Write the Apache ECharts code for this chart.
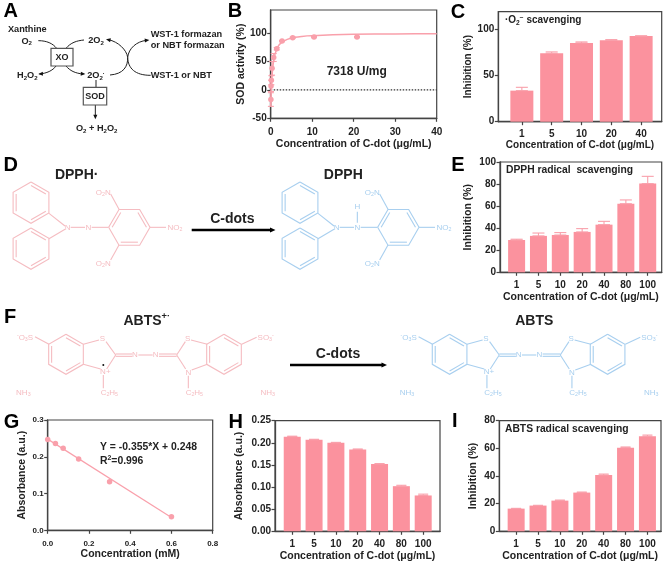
<!DOCTYPE html>
<html>
<head>
<meta charset="utf-8">
<title>C-dot scavenging</title>
<style>
  html, body { margin: 0; padding: 0; background: #fff; }
  #chart { width: 669px; height: 564px; }
</style>
<script src="https://cdn.jsdelivr.net/npm/echarts@6/dist/echarts.min.js"></script>
</head>
<body>
<div id="chart"></div>
<script>
// panel B
const sodDoseX = [0.04, 0.08, 0.16, 0.33, 0.72, 1.45, 2.73, 5.3, 10.44, 20.8];
const sodDoseY = [-17, 7, 17, 38, 57, 72.4, 85.9, 91.8, 93, 93];
const sodDoseErr = [12, 10, 8, 12, 7, 2, 1, 1, 1, 1];
const sodCurveX = [0, 0.1, 0.2, 0.3, 0.5, 0.75, 1, 1.5, 2, 3, 5, 7.5, 10, 15, 20, 30, 40];
const sodCurveY = [-29, -10, 8, 22, 39, 53, 62, 72, 79, 85.5, 91.5, 94, 95.5, 97, 97.8, 98.5, 99];
// panel C
const superoxideDoses = ['1', '5', '10', '20', '40'];
const superoxideValues = [33.6, 74, 85.2, 88, 92.8];
const superoxideTops = [37.2, 75.5, 86.3, 88.8, 92.8];
// panels E, H, I share doses
const doses = ['1', '5', '10', '20', '40', '80', '100'];
const dpphValues = [29.3, 33, 33.8, 36.6, 43.2, 62.2, 80.4];
const dpphTops = [30, 35.6, 36, 39.6, 46.2, 65.6, 87];
const abtsAbsValues = [0.214, 0.207, 0.2, 0.185, 0.152, 0.102, 0.081];
const abtsAbsTops = [0.215, 0.208, 0.201, 0.186, 0.153, 0.104, 0.084];
const abtsValues = [16.4, 18.6, 22.2, 28, 40.7, 60.5, 68.7];
const abtsTops = [16.6, 18.8, 22.6, 28.4, 41.4, 61, 69.6];
// panel G
const stdConc = [0, 0.0375, 0.075, 0.15, 0.3, 0.6];
const stdAbs = [0.247, 0.236, 0.223, 0.194, 0.132, 0.037];
const fitX = [0, 0.6];
const fitY = [0.248, 0.035];

const FONT = '"Liberation Sans", Arial, sans-serif';
const DARK = '#222';
const FRAME = '#444';
const BAR = '#fb929e';
const DOT = '#f9a0ab';
const PINK = '#f5bcc1';
const BLUE = '#a8cfef';
const DOSE_LABEL = 'Concentration of C-dot (μg/mL)';

const zip = (a, b) => a.map((v, i) => [v, b[i]]);

// ---- axes / grids ----
const grids = [];
const xAxes = [];
const yAxes = [];
const series = [];

function addPanel(p) {
  const idx = grids.length;
  grids.push({
    left: p.left, top: p.top, width: p.right - p.left, height: p.bottom - p.top,
    show: true, borderColor: FRAME, borderWidth: 1.2, backgroundColor: 'transparent'
  });
  const axisBase = {
    gridIndex: idx,
    type: 'value',
    splitLine: { show: false },
    axisLine: { show: true, onZero: false, lineStyle: { color: FRAME, width: 1.3 } },
    nameTextStyle: { fontFamily: FONT, fontWeight: 'bold', color: DARK, fontSize: p.nameSize || 10.5 }
  };
  xAxes.push(Object.assign({}, axisBase, {
    min: p.xMin, max: p.xMax,
    name: p.xName, nameLocation: 'middle', nameGap: p.xNameGap,
    axisTick: { length: 3.5, lineStyle: { color: FRAME, width: 1.2 }, customValues: p.xTicks },
    axisLabel: {
      customValues: p.xTicks, formatter: p.xFormat, margin: p.xMargin || 8, color: DARK,
      fontFamily: FONT, fontWeight: 'bold', fontSize: p.xSize || 10
    }
  }));
  yAxes.push(Object.assign({}, axisBase, {
    min: p.yMin, max: p.yMax,
    name: p.yName, nameLocation: 'middle', nameGap: p.yNameGap,
    axisTick: { length: 3.5, lineStyle: { color: FRAME, width: 1.2 }, customValues: p.yTicks },
    axisLabel: {
      customValues: p.yTicks, formatter: p.yFormat, margin: 4, color: DARK,
      fontFamily: FONT, fontWeight: 'bold', fontSize: p.ySize || 10
    }
  }));
  return idx;
}

function errorSeries(idx, points) {
  // points: [x, low, high], drawn through the panel's scales
  return {
    type: 'custom', xAxisIndex: idx, yAxisIndex: idx, silent: true, z: 3,
    data: points,
    renderItem: function (params, api) {
      const lo = api.coord([api.value(0), api.value(1)]);
      const hi = api.coord([api.value(0), api.value(2)]);
      const cap = api.value(3);
      const st = { stroke: DOT, lineWidth: 1.1 };
      const seg = (x1, y1, x2, y2) => ({ type: 'line', shape: { x1, y1, x2, y2 }, style: st });
      return {
        type: 'group',
        children: [
          seg(lo[0], lo[1], hi[0], hi[1]),
          seg(hi[0] - cap, hi[1], hi[0] + cap, hi[1]),
          seg(lo[0] - cap, lo[1], lo[0] + cap, lo[1])
        ]
      };
    }
  };
}

function addBars(p, cats, values, tops, barW, capW) {
  const pos = cats.map((c, i) => i);
  const idx = addPanel(Object.assign({
    xTicks: pos, xFormat: v => cats[v]
  }, p));
  series.push({
    type: 'bar', xAxisIndex: idx, yAxisIndex: idx, silent: true, barWidth: barW,
    itemStyle: { color: BAR }, data: zip(pos, values), z: 2
  });
  series.push(errorSeries(idx, values.map((v, i) => [i, v, tops[i], capW])));
}

// B
const bIdx = addPanel({
  left: 270.7, right: 436.7, top: 10, bottom: 118.3,
  xMin: 0, xMax: 40, xTicks: [0, 10, 20, 30, 40], xFormat: v => v, xMargin: 9,
  yMin: -50, yMax: 140.6, yTicks: [-50, 0, 50, 100], yFormat: v => v,
  xName: DOSE_LABEL, xNameGap: 18.4, yName: 'SOD activity (%)', yNameGap: 24
});
series.push({
  type: 'line', xAxisIndex: bIdx, yAxisIndex: bIdx, silent: true, showSymbol: false, z: 1,
  data: [[0, 0], [40, 0]], lineStyle: { color: '#333', width: 1.3, type: [1.5, 1.5] }
});
series.push({
  type: 'line', xAxisIndex: bIdx, yAxisIndex: bIdx, silent: true, showSymbol: false, smooth: 0.2, z: 2,
  data: zip(sodCurveX, sodCurveY), lineStyle: { color: DOT, width: 1.5 }
});
series.push({
  type: 'scatter', xAxisIndex: bIdx, yAxisIndex: bIdx, silent: true, symbolSize: 5.5, z: 3,
  data: zip(sodDoseX, sodDoseY), itemStyle: { color: DOT, opacity: 1 }
});
series.push(errorSeries(bIdx, sodDoseX.map((x, i) => [x, sodDoseY[i] - sodDoseErr[i], sodDoseY[i] + sodDoseErr[i], 3])));

// C
addBars({
  left: 498.3, right: 661.7, top: 11.7, bottom: 121.7,
  xMin: -0.79, xMax: 4.69,
  yMin: 0, yMax: 119, yTicks: [0, 50, 100], yFormat: v => v,
  xName: DOSE_LABEL, xNameGap: 15, yName: 'Inhibition (%)', yNameGap: 24, nameSize: 10
}, superoxideDoses, superoxideValues, superoxideTops, 23, 6);

// E
addBars({
  left: 500, right: 661.7, top: 162, bottom: 272.3,
  xMin: -0.76, xMax: 6.64,
  yMin: 0, yMax: 100, yTicks: [0, 20, 40, 60, 80, 100], yFormat: v => v,
  xName: DOSE_LABEL, xNameGap: 15.7, yName: 'Inhibition (%)', yNameGap: 26
}, doses, dpphValues, dpphTops, 17, 6);

// G
const gIdx = addPanel({
  left: 47.7, right: 212.7, top: 420, bottom: 530.3,
  xMin: 0, xMax: 0.8, xTicks: [0, 0.2, 0.4, 0.6, 0.8], xFormat: v => v.toFixed(1), xSize: 8, xMargin: 9.5,
  yMin: 0, yMax: 0.3, yTicks: [0, 0.1, 0.2, 0.3], yFormat: v => v.toFixed(1), ySize: 8,
  xName: 'Concentration (mM)', xNameGap: 18.4, yName: 'Absorbance (a.u.)', yNameGap: 20
});
series.push({
  type: 'line', xAxisIndex: gIdx, yAxisIndex: gIdx, silent: true, showSymbol: false, z: 2,
  data: zip(fitX, fitY), lineStyle: { color: DOT, width: 1.2 }
});
series.push({
  type: 'scatter', xAxisIndex: gIdx, yAxisIndex: gIdx, silent: true, symbolSize: 5.5, z: 3,
  data: zip(stdConc, stdAbs), itemStyle: { color: DOT, opacity: 1 }
});

// H
addBars({
  left: 275, right: 440, top: 420.7, bottom: 531.3,
  xMin: -0.79, xMax: 6.77,
  yMin: 0, yMax: 0.25, yTicks: [0, 0.05, 0.1, 0.15, 0.2, 0.25], yFormat: v => v.toFixed(2),
  xName: DOSE_LABEL, xNameGap: 15.4, yName: 'Absorbance (a.u.)', yNameGap: 30
}, doses, abtsAbsValues, abtsAbsTops, 17, 5);

// I
addBars({
  left: 499.3, right: 661, top: 420.7, bottom: 531.3,
  xMin: -0.77, xMax: 6.62,
  yMin: 0, yMax: 80, yTicks: [0, 20, 40, 60, 80], yFormat: v => v,
  xName: DOSE_LABEL, xNameGap: 15.4, yName: 'Inhibition (%)', yNameGap: 21
}, doses, abtsValues, abtsTops, 17, 5);

// ---- drawn schematics, text ----
const gfx = [];

function txt(x, y, text, size, opts) {
  opts = opts || {};
  const color = opts.color || DARK;
  const weight = opts.weight || 'bold';
  const rich = {
    n: { fontFamily: FONT, fontWeight: weight, fontSize: size, fill: color, verticalAlign: 'middle' },
    s: { fontFamily: FONT, fontWeight: weight, fontSize: size * 0.66, fill: color, verticalAlign: 'bottom', padding: [size * 0.55, 0, 0, 0] },
    u: { fontFamily: FONT, fontWeight: weight, fontSize: size * 0.66, fill: color, verticalAlign: 'top', padding: [0, 0, size * 0.55, 0] }
  };
  gfx.push({
    type: 'text', silent: true, z: 20,
    style: {
      x: x, y: y, text: text, align: opts.align || 'center', verticalAlign: 'middle',
      fontFamily: FONT, fontWeight: weight, fontSize: size, fill: color, rich: rich
    }
  });
}

const line = (pts, color, w) => gfx.push({
  type: 'polyline', silent: true, z: 15, shape: { points: pts }, style: { stroke: color, lineWidth: w, fill: null }
});

// zoom-crop coordinates are 3x, offset to the crop's origin
const at = (ox, oy) => (x, y) => [ox + x / 3, oy + y / 3];

function head(tip, from, size, color) {
  const a = Math.atan2(tip[1] - from[1], tip[0] - from[0]);
  const s = size || 5;
  const p = (ang, r) => [tip[0] - r * Math.cos(ang), tip[1] - r * Math.sin(ang)];
  gfx.push({
    type: 'polygon', silent: true, z: 16,
    shape: { points: [tip, p(a + 0.42, s), p(a - 0.42, s)] },
    style: { fill: color || '#111' }
  });
}

function curve(p0, c1, c2, p1) {
  gfx.push({
    type: 'bezierCurve', silent: true, z: 15,
    shape: { x1: p0[0], y1: p0[1], cpx1: c1[0], cpy1: c1[1], cpx2: c2[0], cpy2: c2[1], x2: p1[0], y2: p1[1] },
    style: { stroke: '#222', lineWidth: 1, fill: null }
  });
}

function box(x0, y0, x1, y1, label) {
  gfx.push({
    type: 'rect', silent: true, z: 15,
    shape: { x: x0, y: y0, width: x1 - x0, height: y1 - y0 },
    style: { stroke: '#555', lineWidth: 1.2, fill: '#fff' }
  });
  txt((x0 + x1) / 2, (y0 + y1) / 2, label, 9);
}

// panel letters
[['A', 10.7, 11.5], ['B', 235, 11.5], ['C', 458, 12], ['D', 10.7, 165], ['E', 458, 165],
 ['F', 10, 317.7], ['G', 11.5, 422], ['H', 235.7, 422], ['I', 454.7, 421]].forEach(l => {
  txt(l[1], l[2], l[0], 20, { color: '#000' });
});

// A: xanthine oxidase scheme
(function () {
  const z = at(0, 0);
  const S = 9.2;
  txt(27.3, 29.7, 'Xanthine', S);
  txt(26.7, 41, '{n|O}{s|2}', S);
  txt(96, 40.7, '{n|2O}{s|2}', S);
  txt(150.7, 34, 'WST-1 formazan', S, { align: 'left' });
  txt(150.7, 45, 'or NBT formazan', S, { align: 'left' });
  txt(27.3, 75.7, '{n|H}{s|2}{n|O}{s|2}', S);
  txt(96, 75.7, '{n|2O}{s|2}{u|·}', S);
  txt(150.7, 75, 'WST-1 or NBT', S, { align: 'left' });
  txt(96.7, 128.3, '{n|O}{s|2}{n| + H}{s|2}{n|O}{s|2}', S);
  curve(z(115, 122), z(140, 122), z(158, 130), z(170, 145));
  curve(z(198, 145), z(212, 128), z(230, 122), z(252, 120));
  curve(z(168, 198), z(158, 212), z(140, 220), z(118, 222));
  head(z(115, 222), z(135, 221));
  curve(z(198, 198), z(210, 212), z(225, 220), z(250, 222));
  head(z(256, 222), z(236, 221));
  line([z(288, 240), z(288, 262)], '#222', 1);
  line([z(286, 315), z(286, 350)], '#222', 1);
  head(z(286, 358), z(286, 340));
  curve(z(330, 225), z(370, 222), z(384, 200), z(383, 172));
  curve(z(383, 172), z(380, 150), z(355, 125), z(325, 119));
  head(z(318, 118), z(338, 122));
  curve(z(452, 226), z(405, 226), z(384, 205), z(383, 172));
  curve(z(383, 172), z(386, 145), z(410, 124), z(440, 121));
  head(z(448, 120), z(428, 122));
  box(51, 48.3, 73, 66, 'XO');
  box(83.3, 87.3, 106.7, 105, 'SOD');
})();

// rings in crop units: pointy or flat hexagon, every second edge doubled
function ring(cx, cy, r, flat, dx, oy, color) {
  const pts = [];
  for (let i = 0; i < 6; i++) {
    const a = (flat ? Math.PI : -Math.PI / 2) + i * Math.PI / 3;
    pts.push([cx + r * Math.cos(a), cy + r * Math.sin(a)]);
  }
  const z = at(dx, oy);
  line(pts.concat([pts[0]]).map(p => z(p[0], p[1])), color, 1.1);
  [0, 2, 4].forEach(k => {
    const a = pts[k], b = pts[(k + 1) % 6];
    const inner = p => [cx + (p[0] - cx) * 0.83, cy + (p[1] - cy) * 0.83];
    const ia = inner(a), ib = inner(b);
    line([z(ia[0], ia[1]), z(ib[0], ib[1])], color, 1.1);
  });
}

function bonds(list, dx, oy, color) {
  const z = at(dx, oy);
  list.forEach(b => line([z(b[0], b[1]), z(b[2], b[3])], color, 1.1));
}

// D: DPPH radical (pink) and reduced DPPH (blue)
function dpph(dx, color, withH) {
  const oy = 150;
  ring(93, 158, 62, false, dx, oy, color);
  ring(93, 296, 62, false, dx, oy, color);
  ring(388, 232, 62, true, dx, oy, color);
  bonds([
    [147, 190, 195, 228], [147, 266, 195, 238], [212, 232, 255, 232], [275, 232, 326, 232],
    [450, 232, 498, 232], [357, 178, 332, 132], [357, 285, 332, 330]
  ], dx, oy, color);
  const z = at(dx, oy);
  const chem = (x, y, t) => { const p = z(x, y); txt(p[0], p[1], t, 8, { color: color, weight: 'normal' }); };
  chem(203, 233, 'N');
  chem(265, 233, 'N');
  chem(525, 233, '{n|NO}{s|2}');
  chem(310, 127, '{n|O}{s|2}{n|N}');
  chem(310, 340, '{n|O}{s|2}{n|N}');
  if (withH) {
    chem(265, 170, 'H');
    bonds([[265, 185, 265, 218]], dx, oy, color);
  }
}
dpph(0, PINK, false);
dpph(269, BLUE, true);
txt(76.7, 175, 'DPPH·', 14);
txt(343.3, 175, 'DPPH', 14);
txt(232.3, 219.3, 'C-dots', 14);
line([[191.7, 230], [271, 230]], '#000', 2.5);
head([275.5, 230], [268, 230], 6, '#000');

// F: ABTS radical cation (pink) and ABTS (blue)
function abts(dx, color, plusDot) {
  const oy = 295;
  ring(198, 178, 60, false, dx, oy, color);
  ring(672, 178, 60, false, dx, oy, color);
  bonds([
    [250, 148, 297, 135], [318, 140, 347, 180], [347, 180, 320, 222], [302, 222, 250, 208],
    [347, 177, 397, 177], [347, 184, 397, 184], [415, 180, 458, 180],
    [477, 177, 530, 177], [477, 184, 530, 184],
    [530, 180, 556, 140], [530, 180, 557, 222], [573, 135, 622, 148], [575, 225, 622, 208],
    [147, 148, 105, 125], [725, 148, 770, 127], [310, 240, 310, 280], [565, 242, 565, 280]
  ], dx, oy, color);
  const z = at(dx, oy);
  const chem = (x, y, t) => { const p = z(x, y); txt(p[0], p[1], t, 8, { color: color, weight: 'normal' }); };
  chem(307, 130, 'S');
  chem(563, 130, 'S');
  chem(316, 231, 'N+');
  chem(565, 232, 'N');
  chem(405, 180, 'N');
  chem(467, 180, 'N');
  chem(75, 127, '{u|-}{n|O}{s|3}{n|S}');
  chem(797, 127, '{n|SO}{s|3}{u|-}');
  chem(328, 292, '{n|C}{s|2}{n|H}{s|5}');
  chem(583, 292, '{n|C}{s|2}{n|H}{s|5}');
  chem(70, 292, '{n|NH}{s|3}');
  chem(803, 292, '{n|NH}{s|3}');
  if (plusDot) {
    const p = z(310, 210);
    gfx.push({ type: 'circle', silent: true, z: 16, shape: { cx: p[0], cy: p[1], r: 1 }, style: { fill: '#111' } });
  }
}
abts(0, PINK, true);
abts(383.6, BLUE, false);
txt(146.7, 320.7, '{n|ABTS}{u|+·}', 14);
txt(534.3, 320.7, 'ABTS', 14);
txt(338, 354.3, 'C-dots', 14);
line([[290, 365], [382.5, 365]], '#000', 2.5);
head([387, 365], [380, 365], 6, '#000');

// in-plot notes
txt(356.7, 72, '7318 U/mg', 12, { color: '#222' });
txt(505, 20.7, '{n|·O}{s|2}{u|−}{n| scavenging}', 10, { align: 'left', weight: 'bold' });
txt(506, 170, 'DPPH radical  scavenging', 10.3, { align: 'left' });
txt(505, 429, 'ABTS radical scavenging', 10.3, { align: 'left' });
txt(100, 446.7, 'Y = -0.355*X + 0.248', 10.4, { align: 'left' });
txt(100, 461, '{n|R}{u|2}{n|=0.996}', 10.4, { align: 'left' });

const chart = echarts.init(document.getElementById('chart'), null, { renderer: 'canvas' });
chart.setOption({
  backgroundColor: '#ffffff',
  animation: false,
  tooltip: { show: false },
  grid: grids,
  xAxis: xAxes,
  yAxis: yAxes,
  series: series,
  graphic: { elements: gfx }
});
</script>
</body>
</html>
